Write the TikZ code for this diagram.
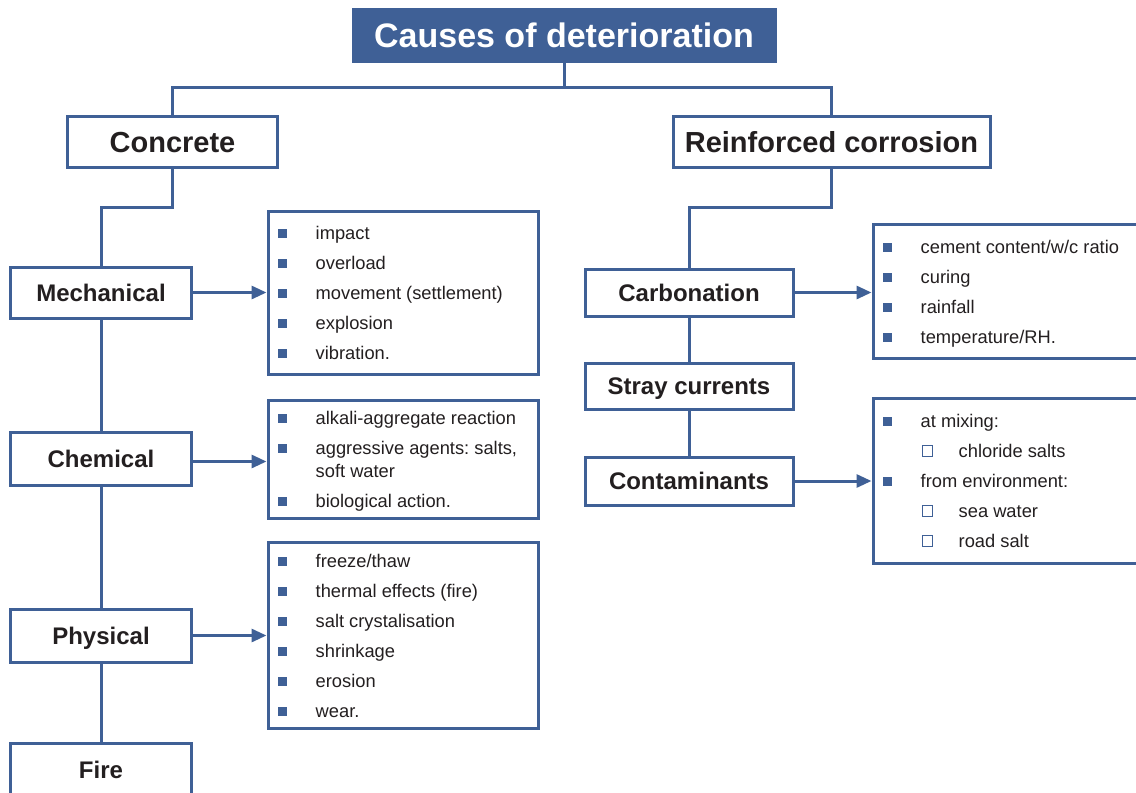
\documentclass[tikz,border=0pt]{standalone}
\usepackage{fontspec}
\setmainfont{Liberation Sans}
\usetikzlibrary{arrows.meta}
\definecolor{cblue}{HTML}{3F6096}
\definecolor{ctext}{HTML}{231F20}
\newcommand\bitem[4]{%
  \node[bul] (#1b) at (#2,#3) {};
  \node[itm] (#1) at (#2+33,#3+6) {#4};}
\newcommand\sitem[4]{%
  \node[hbul] (#1b) at (#2,#3) {};
  \node[itm] (#1) at (#2+31,#3+6) {#4};}
\begin{document}
\frenchspacing
\begin{tikzpicture}[x=1pt,y=-1pt,
  box/.style={draw=cblue, line width=3pt, fill=white, text=ctext,
    font=\bfseries\fontsize{24}{28}\selectfont, text height=17pt, text depth=0pt,
    minimum width=181pt, minimum height=51pt, inner sep=0pt},
  bigbox/.style={box, font=\bfseries\fontsize{29}{33}\selectfont, text height=21pt},
  listbox/.style={draw=cblue, line width=3pt, fill=white, inner sep=0pt},
  conn/.style={draw=cblue, line width=3pt},
  arr/.style={conn, -{Triangle[length=15pt,width=13pt]}},
  bul/.style={fill=cblue, minimum size=9pt, inner sep=0pt},
  hbul/.style={draw=cblue, line width=1.2pt, fill=white, minimum size=10.5pt, inner sep=0pt},
  itm/.style={anchor=base west, text=ctext, font=\fontsize{18.3}{22}\selectfont, inner sep=0pt}]
\useasboundingbox (0,0) rectangle (1136,793);
\clip (0,0) rectangle (1136,793);
\fill[white] (0,0) rectangle (1136,793);

% title
\node[fill=cblue, text=white, font=\bfseries\fontsize{34}{38}\selectfont,
  text height=24pt, text depth=0pt, minimum width=425pt, minimum height=55pt, inner sep=0pt]
  (title) at (564,35) {Causes of deterioration};
\coordinate (tj) at (564,87);

% main branches
\node[bigbox, minimum width=210pt] (conc) at (172.5,141.5) {Concrete};
\node[bigbox, minimum width=317pt] (rc) at (831.5,141.5) {Reinforced corrosion};

\draw[conn] (title.south) -- (tj);
\draw[conn] (conc.north) |- (tj) -| (rc.north);

% concrete subtree
\node[box] (mech) at (101,292.5) {Mechanical};
\node[box, minimum height=53pt] (chem) at (101,458.5) {Chemical};
\node[box, minimum height=53pt] (phys) at (101,635.5) {Physical};
\node[box, minimum height=54pt] (fire) at (101,770) {Fire};
\coordinate (lj) at (101,207);
\draw[conn] (conc.south) |- (lj) -- (mech.north);
\draw[conn] (mech.south) -- (chem.north);
\draw[conn] (chem.south) -- (phys.north);
\draw[conn] (phys.south) -- (fire.north);

% concrete lists
\node[listbox, minimum width=270pt, minimum height=163pt] (l1) at (403,292.5) {};
\node[listbox, minimum width=270pt, minimum height=118pt] (l2) at (403,459) {};
\node[listbox, minimum width=270pt, minimum height=186pt] (l3) at (403,635) {};
\draw[arr] (mech.east) -- (mech.east -| l1.west);
\draw[arr] ([yshift=-3pt]chem.east) -- ([yshift=-3pt]chem.east -| l2.west);
\draw[arr] (phys.east) -- (phys.east -| l3.west);

\bitem{a1}{282.5}{233}{impact}
\bitem{a2}{282.5}{263}{overload}
\bitem{a3}{282.5}{293}{movement (settlement)}
\bitem{a4}{282.5}{323}{explosion}
\bitem{a5}{282.5}{353}{vibration.}

\bitem{b1}{282.5}{418}{alkali-aggregate reaction}
\bitem{b2}{282.5}{448}{aggressive agents: salts,}
\node[itm] (b2c) at (315.5,477) {soft water};
\bitem{b3}{282.5}{501}{biological action.}

\bitem{c1}{282.5}{561}{freeze/thaw}
\bitem{c2}{282.5}{591}{thermal effects (fire)}
\bitem{c3}{282.5}{621}{salt crystalisation}
\bitem{c4}{282.5}{651}{shrinkage}
\bitem{c5}{282.5}{681}{erosion}
\bitem{c6}{282.5}{711}{wear.}

% reinforced corrosion subtree
\node[box, minimum width=208pt, minimum height=47pt] (carb) at (689,292.5) {Carbonation};
\node[box, minimum width=208pt, minimum height=46pt] (stray) at (689,386) {Stray currents};
\node[box, minimum width=208pt, minimum height=48pt] (cont) at (689,481) {Contaminants};
\coordinate (rj) at (689,207);
\draw[conn] (rc.south) |- (rj) -- (carb.north);
\draw[conn] (carb.south) -- (stray.north);
\draw[conn] (stray.south) -- (cont.north);

\node[listbox, minimum width=277pt, minimum height=134pt] (l4) at (1011.5,291) {};
\node[listbox, minimum width=277pt, minimum height=165pt] (l5) at (1011.5,480.5) {};
\draw[arr] (carb.east) -- (carb.east -| l4.west);
\draw[arr] (cont.east) -- (cont.east -| l5.west);

\bitem{d1}{887.5}{247}{cement content/w/c ratio}
\bitem{d2}{887.5}{277}{curing}
\bitem{d3}{887.5}{307}{rainfall}
\bitem{d4}{887.5}{337}{temperature/RH.}

\bitem{e1}{887.5}{421}{at mixing:}
\sitem{e2}{927.5}{451}{chloride salts}
\bitem{e3}{887.5}{481}{from environment:}
\sitem{e4}{927.5}{511}{sea water}
\sitem{e5}{927.5}{541}{road salt}
\end{tikzpicture}
\end{document}
